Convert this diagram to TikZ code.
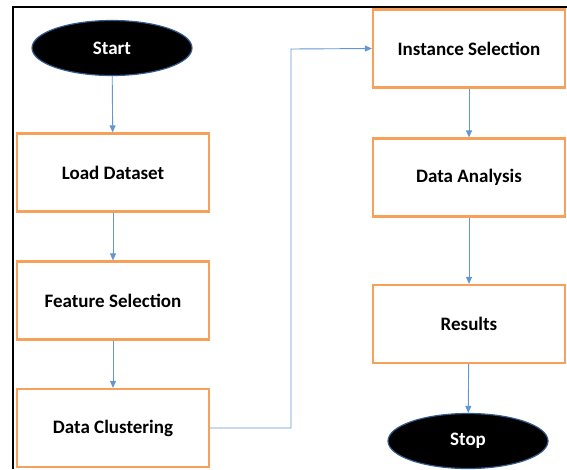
\documentclass[tikz,border=0pt]{standalone}
\usepackage{fontspec}
\setmainfont{Carlito}
\usetikzlibrary{arrows.meta,shapes.geometric}
\definecolor{boxorange}{RGB}{247,160,90}
\definecolor{arrowblue}{RGB}{100,150,210}
\definecolor{ellborder}{RGB}{50,90,140}
\tikzset{
  procbox/.style={draw=boxorange, line width=2.2pt, fill=white, minimum width=192pt, minimum height=78pt, inner sep=0pt, font=\bfseries\fontsize{19}{22}\selectfont},
  term/.style={ellipse, draw=ellborder, line width=1.2pt, fill=black, text=white, minimum width=160pt, minimum height=55pt, inner sep=0pt, font=\bfseries\fontsize{19}{22}\selectfont},
  conn/.style={draw=arrowblue, line width=0.9pt, -{Triangle[length=7pt,width=6pt]}}
}
\begin{document}
\begin{tikzpicture}[x=1pt,y=-1pt]
\useasboundingbox (0,0) rectangle (567,469);
\draw[line width=1.5pt] (13,469) -- (13,7) -- (567,7);
\node[term] (start) at (112,48) {Start};
\node[procbox] (load) at (113,172.5) {Load Dataset};
\node[procbox] (feat) at (113,300.5) {Feature Selection};
\node[procbox] (clus) at (113,428) {Data Clustering};
\node[procbox] (inst) at (469,48.5) {Instance Selection};
\node[procbox] (anal) at (469,177.5) {Data Analysis};
\node[procbox] (res) at (469,324) {Results};
\node[term] (stop) at (468,441) {Stop};
\draw[conn] (start) -- (load);
\draw[conn] (load) -- (feat);
\draw[conn] (feat) -- (clus);
\coordinate (c1) at (291,428);
\coordinate (c2) at (291,49);
\draw[conn] (clus.east) -- (c1) -- (c2) -- (inst.west);
\draw[conn] (inst) -- (anal);
\draw[conn] (anal) -- (res);
\draw[conn] (res) -- (stop);
\end{tikzpicture}
\end{document}
